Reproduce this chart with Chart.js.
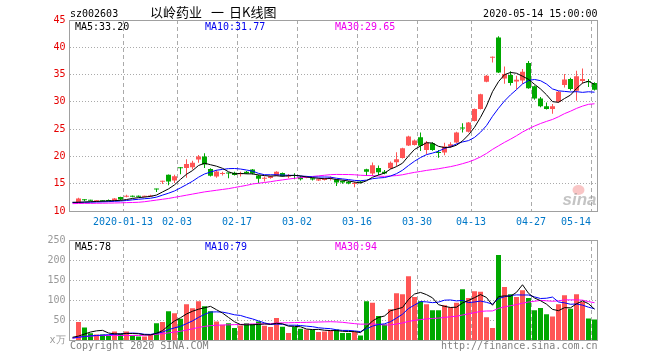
<!DOCTYPE html>
<html>
<head>
<meta charset="utf-8">
<title>以岭药业 日K线图</title>
<script src="https://cdn.jsdelivr.net/npm/chart.js@4.4.1/dist/chart.umd.min.js"></script>
<style>
    html, body { margin: 0; padding: 0; background: #fff; }
    #wrap { position: relative; width: 660px; height: 360px; overflow: hidden; background: #fff; }
    #wrap canvas { position: absolute; left: 0; }
    #kline { top: 0; }
    #vol { top: 230px; }
</style>
</head>
<body>
<div id="wrap">
    <canvas id="kline" width="660" height="230"></canvas>
    <canvas id="vol" width="660" height="130"></canvas>
</div>
<script>
// trading days; the first slot (12-30) only carries the moving averages
const dates = [
    '2019-12-30', '2019-12-31',
    '2020-01-02', '2020-01-03', '2020-01-06', '2020-01-07', '2020-01-08', '2020-01-09', '2020-01-10',
    '2020-01-13', '2020-01-14', '2020-01-15', '2020-01-16', '2020-01-17', '2020-01-20', '2020-01-21',
    '2020-01-22', '2020-01-23',
    '2020-02-03', '2020-02-04', '2020-02-05', '2020-02-06', '2020-02-07', '2020-02-10', '2020-02-11',
    '2020-02-12', '2020-02-13', '2020-02-14', '2020-02-17', '2020-02-18', '2020-02-19', '2020-02-20',
    '2020-02-21', '2020-02-24', '2020-02-25', '2020-02-26', '2020-02-27', '2020-02-28',
    '2020-03-02', '2020-03-03', '2020-03-04', '2020-03-05', '2020-03-06', '2020-03-09', '2020-03-10',
    '2020-03-11', '2020-03-12', '2020-03-13', '2020-03-16', '2020-03-17', '2020-03-18', '2020-03-19',
    '2020-03-20', '2020-03-23', '2020-03-24', '2020-03-25', '2020-03-26', '2020-03-27', '2020-03-30',
    '2020-03-31',
    '2020-04-01', '2020-04-02', '2020-04-03', '2020-04-07', '2020-04-08', '2020-04-09', '2020-04-10',
    '2020-04-13', '2020-04-14', '2020-04-15', '2020-04-16', '2020-04-17', '2020-04-20', '2020-04-21',
    '2020-04-22', '2020-04-23', '2020-04-24', '2020-04-27', '2020-04-28', '2020-04-29', '2020-04-30',
    '2020-05-06', '2020-05-07', '2020-05-08', '2020-05-11', '2020-05-12', '2020-05-13', '2020-05-14'
];

const tickDates = ['2020-01-13', '2020-02-03', '2020-02-17', '2020-03-02', '2020-03-16',
    '2020-03-30', '2020-04-13', '2020-04-27', '2020-05-14'];
const tickLabels = ['2020-01-13', '02-03', '02-17', '03-02', '03-16', '03-30', '04-13', '04-27', '05-14'];

const titleParts = ['以岭药业', '一', '日K线图'];

const open = [null,
    11.55, 12.05, 11.95, 11.8, 11.9, 11.95, 11.9, 12.55, 12.6, 12.75,
    12.7, 12.6, 12.65, 14.05, 15.35, 16.65, 15.6, 17.95, 17.9, 18.0,
    19.45, 20.0, 17.7, 16.3, 16.8, 16.95, 17.0, 16.75, 17.2, 17.6,
    16.5, 15.9, 16.05, 16.5, 16.95, 16.3, 16.5, 16.2, 16.1, 16.0,
    15.6, 15.7, 15.95, 15.75, 15.5, 15.35, 14.95, 15.35, 17.65, 16.85,
    17.9, 17.2, 17.85, 18.95, 19.7, 22.0, 22.1, 23.5, 21.2, 22.4,
    20.75, 20.7, 21.8, 22.55, 25.2, 24.5, 26.5, 28.7, 33.7, 38.1,
    41.8, 34.3, 34.9, 33.75, 33.9, 37.1, 32.85, 30.6, 29.2, 28.7,
    30.0, 33.1, 34.2, 32.05, 33.8, 33.7, 33.45];
const high = [null,
    12.45, 12.15, 12.05, 11.95, 11.95, 12.1, 12.4, 12.6, 13.0, 12.85,
    12.85, 12.8, 13.0, 14.1, 15.55, 16.7, 16.65, 18.05, 19.5, 19.2,
    20.25, 20.6, 17.85, 17.5, 17.2, 17.05, 17.2, 17.2, 17.35, 17.7,
    16.65, 16.3, 16.45, 17.3, 17.05, 16.8, 16.9, 16.4, 16.4, 16.1,
    16.0, 16.05, 16.3, 15.8, 15.6, 15.5, 15.35, 15.5, 17.75, 18.9,
    18.35, 17.5, 19.05, 20.75, 21.6, 23.8, 23.1, 24.4, 22.85, 22.6,
    21.2, 22.5, 22.6, 24.5, 26.1, 26.3, 28.8, 31.5, 34.9, 38.3,
    42.0, 36.5, 35.6, 34.8, 36.0, 37.5, 33.0, 30.9, 29.9, 29.6,
    32.0, 35.1, 34.4, 35.7, 36.1, 34.2, 33.6];
const low = [null,
    11.5, 11.8, 11.8, 11.7, 11.7, 11.8, 11.85, 11.95, 12.5, 12.5,
    12.5, 12.5, 12.6, 13.5, 14.95, 14.7, 15.15, 16.75, 16.1, 17.6,
    18.85, 17.9, 16.3, 16.1, 16.5, 16.0, 16.5, 16.3, 16.8, 16.7,
    15.1, 15.4, 15.9, 16.4, 16.3, 16.0, 15.8, 15.6, 16.0, 15.6,
    15.5, 15.6, 15.6, 14.6, 15.0, 14.9, 14.35, 15.1, 16.4, 16.4,
    16.6, 16.75, 17.7, 18.2, 19.6, 21.9, 22.0, 21.0, 20.4, 21.05,
    19.75, 20.2, 21.6, 22.4, 24.4, 24.4, 26.4, 28.6, 33.6, 37.2,
    35.3, 33.3, 33.0, 32.3, 33.3, 32.4, 30.4, 29.0, 28.6, 27.8,
    29.9, 32.65, 32.1, 30.2, 33.3, 32.7, 32.1];
const close = [null,
    12.3, 11.95, 11.9, 11.9, 11.8, 11.85, 12.3, 12.1, 12.75, 12.6,
    12.6, 12.65, 12.8, 13.95, 15.45, 15.4, 16.35, 17.85, 18.6, 18.85,
    20.0, 18.5, 16.45, 17.25, 16.9, 16.85, 16.6, 16.85, 16.85, 16.85,
    15.9, 16.0, 16.35, 17.2, 16.35, 16.4, 16.4, 15.8, 16.2, 15.75,
    15.8, 16.0, 16.05, 15.2, 15.2, 15.05, 15.05, 15.2, 17.2, 18.4,
    17.1, 16.85, 18.85, 19.5, 21.5, 23.65, 22.9, 21.95, 22.55, 21.2,
    20.65, 21.8, 22.25, 24.4, 25.1, 26.2, 28.7, 31.4, 34.8, 38.2,
    35.4, 35.1, 33.45, 34.05, 35.5, 32.5, 30.6, 29.2, 28.7, 29.2,
    31.85, 34.1, 32.35, 34.7, 34.2, 33.6, 32.2];

// volume, in 万 shares
const volume = [null,
    46, 32.5, 18, 15, 15, 12.5, 22.5, 16.5, 22.5, 12.5,
    10, 10, 14, 43, 46, 72.5, 67.5, 54, 90, 80,
    97.5, 85, 72.5, 47.5, 39, 43, 31, 37.5, 43, 41,
    47.5, 36.5, 33.5, 56, 34, 18.5, 33.5, 29, 27.5, 27.5,
    21, 22.5, 25, 27.5, 18.5, 18.5, 21, 12.5, 97.5, 94,
    61, 40, 77.5, 117.5, 115, 160, 108, 97.5, 90, 75,
    75, 87.5, 83, 94, 127.5, 106, 122.5, 121, 58, 31,
    212.5, 133, 115, 108, 125, 106, 75, 81, 65, 60,
    90, 112.5, 79, 115, 96, 55, 52.5];

const ma5 = [11.6,
    11.6, 11.65, 11.7, 11.75, 11.8, 11.85, 11.9, 11.95, 12.1, 12.3,
    12.45, 12.55, 12.68, 12.92, 13.49, 14.05, 14.79, 15.8, 16.73, 17.41,
    18.33, 18.76, 18.48, 18.21, 17.82, 17.19, 16.81, 16.89, 16.81, 16.8,
    16.61, 16.49, 16.39, 16.46, 16.36, 16.46, 16.54, 16.43, 16.23, 16.11,
    15.99, 15.91, 15.96, 15.76, 15.65, 15.5, 15.31, 15.14, 15.54, 16.18,
    16.59, 16.95, 17.68, 18.14, 18.76, 20.07, 21.28, 21.9, 22.51, 22.45,
    21.85, 21.63, 21.69, 22.06, 22.84, 23.95, 25.33, 27.16, 29.24, 31.86,
    33.7, 34.98, 35.39, 35.24, 34.7, 34.12, 33.22, 32.37, 31.3, 30.04,
    29.91, 30.61, 31.24, 32.44, 33.44, 33.79, 33.2];
const ma10 = [11.55,
    11.58, 11.6, 11.62, 11.65, 11.68, 11.72, 11.77, 11.83, 11.92, 12.05,
    12.15, 12.25, 12.34, 12.54, 12.91, 13.26, 13.67, 14.24, 14.83, 15.45,
    16.19, 16.78, 17.14, 17.47, 17.62, 17.76, 17.79, 17.69, 17.51, 17.31,
    16.9, 16.65, 16.64, 16.64, 16.58, 16.54, 16.52, 16.41, 16.35, 16.24,
    16.23, 16.23, 16.2, 16.0, 15.88, 15.75, 15.61, 15.55, 15.65, 15.92,
    16.05, 16.13, 16.41, 16.84, 17.47, 18.33, 19.12, 19.79, 20.33, 20.61,
    20.96, 21.46, 21.8, 22.29, 22.65, 22.9, 23.48, 24.43, 25.65, 27.35,
    28.83, 30.16, 31.28, 32.24, 33.28, 33.91, 34.1, 33.88, 33.27, 32.37,
    32.02, 31.92, 31.81, 31.87, 31.74, 31.85, 31.77];
const ma30 = [11.35,
    11.38, 11.4, 11.4, 11.42, 11.43, 11.45, 11.47, 11.5, 11.53, 11.56,
    11.6, 11.7, 11.85, 12.0, 12.15, 12.3, 12.5, 12.7, 12.9, 13.1,
    13.3, 13.5, 13.65, 13.8, 13.95, 14.1, 14.3, 14.5, 14.7, 14.95,
    15.09, 15.22, 15.37, 15.55, 15.7, 15.85, 15.99, 16.11, 16.23, 16.33,
    16.44, 16.55, 16.66, 16.7, 16.69, 16.68, 16.64, 16.55, 16.5, 16.49,
    16.39, 16.34, 16.42, 16.49, 16.64, 16.87, 17.08, 17.25, 17.44, 17.59,
    17.74, 17.94, 18.13, 18.37, 18.67, 18.99, 19.4, 19.92, 20.54, 21.29,
    21.94, 22.58, 23.16, 23.79, 24.47, 25.05, 25.57, 26.03, 26.42, 26.78,
    27.27, 27.84, 28.29, 28.8, 29.22, 29.55, 29.65];

const volMa5 = [8,
    11, 16, 21, 24, 25.3, 18.6, 16.6, 16.3, 17.8, 17.3,
    16.8, 14.3, 13.8, 17.9, 24.6, 37.1, 48.6, 56.6, 66, 72.8,
    77.8, 81.3, 85, 76.5, 68.3, 57.4, 46.6, 39.6, 38.7, 39.1,
    40, 41.1, 40.3, 42.9, 41.5, 35.7, 35.1, 34.2, 28.5, 27.2,
    27.7, 25.5, 24.7, 24.7, 22.9, 22.4, 22.1, 19.6, 33.6, 48.7,
    57.2, 61, 74, 78, 82.2, 102, 115.6, 119.6, 114.1, 106.1,
    89.1, 85, 82.1, 82.9, 93.4, 99.6, 106.6, 114.2, 107, 87.7,
    109, 111.1, 109.9, 119.9, 138.7, 117.4, 105.8, 99, 90.4, 77.4,
    74.2, 81.7, 81.3, 91.3, 98.5, 91.5, 78];
const volMa10 = [6,
    8, 10, 11.5, 12.5, 13.5, 14.5, 15.5, 16.5, 17.5, 18.5,
    17.7, 15.45, 15.05, 17.85, 20.95, 26.95, 31.45, 35.2, 41.95, 48.7,
    57.45, 64.95, 70.8, 71.25, 70.55, 67.6, 63.95, 62.3, 57.6, 53.7,
    48.7, 43.85, 39.95, 40.8, 40.3, 37.85, 38.1, 37.25, 35.7, 34.35,
    31.7, 30.3, 29.45, 26.6, 25.05, 25.05, 23.8, 22.15, 29.15, 35.8,
    39.8, 41.55, 46.8, 55.8, 65.45, 79.6, 88.3, 96.8, 96.05, 94.15,
    95.55, 100.3, 100.85, 98.5, 99.75, 94.35, 95.8, 98.15, 94.95, 90.55,
    104.3, 108.85, 112.05, 113.45, 113.2, 113.2, 108.45, 104.45, 105.15, 108.05,
    95.8, 93.75, 90.15, 90.85, 87.95, 82.85, 79];
const volMa30 = [6,
    8, 10, 11, 12, 12.5, 12.5, 12.5, 12.5, 12.5, 12.5,
    12.5, 13, 14, 15.5, 17, 19, 21, 23, 26, 29,
    32.5, 35, 37, 38, 38.5, 39, 39.5, 40, 40.5, 41.25,
    41.3, 41.43, 41.95, 43.32, 43.95, 44.15, 44.52, 44.93, 45.1, 45.6,
    45.97, 46.38, 46.75, 46.23, 45.32, 43.52, 41.97, 40.58, 40.83, 41.3,
    40.08, 38.58, 38.75, 41.08, 43.62, 47.52, 50.08, 52.08, 53.65, 54.78,
    55.7, 57.4, 59.05, 60.32, 63.43, 66.35, 69.32, 72.38, 73.4, 73.52,
    79.9, 83.58, 86.58, 89.27, 92.82, 95.73, 97.53, 99.82, 98.73, 97.6,
    98.57, 100.98, 101.03, 100.95, 100.32, 96.82, 94];

const UP = '#ff5555';
const DOWN = '#00a800';
const GRID = '#aaaaaa';
const FRAME = '#a0a0a0';
const MONO = '"DejaVu Sans Mono", monospace';

const candleColor = close.map((c, k) => (c !== null && c >= open[k]) ? UP : DOWN);
const last = dates.length - 1;

// vertical dashed lines only at the labelled dates
function dateGridColor(ctx) {
    const d = dates[ctx.index];
    return d && tickDates.includes(d) ? GRID : 'rgba(0,0,0,0)';
}

function maLine(label, data, color) {
    return {
        type: 'line', label, data,
        borderColor: color, borderWidth: 1,
        pointRadius: 0, tension: 0, order: 0
    };
}

function text(ctx, str, x, y, color, align, font) {
    ctx.fillStyle = color;
    ctx.textAlign = align || 'left';
    ctx.textBaseline = 'alphabetic';
    ctx.font = font || ('10px ' + MONO);
    ctx.fillText(str, x, y);
}

const framePlugin = {
    id: 'frame',
    afterDraw(chart) {
        const { ctx, chartArea: a } = chart;
        const l = Math.floor(a.left) + 0.5, t = Math.floor(a.top) + 0.5;
        const r = Math.floor(a.right) + 0.5, b = Math.floor(a.bottom) + 0.5;
        ctx.save();
        ctx.strokeStyle = FRAME;
        ctx.lineWidth = 1;
        ctx.strokeRect(l, t, r - l, b - t);
        ctx.restore();
    }
};

const klineText = {
    id: 'klineText',
    beforeDatasetsDraw(chart) {
        // sina watermark
        const ctx = chart.ctx;
        const a = chart.chartArea;
        ctx.save();
        ctx.globalAlpha = 0.4;
        ctx.fillStyle = '#f07070';
        ctx.beginPath();
        ctx.ellipse(a.right - 19, a.bottom - 21, 6, 5, 0, 0, Math.PI * 2);
        ctx.fill();
        ctx.globalAlpha = 0.5;
        text(ctx, 'sina', a.right - 35, a.bottom - 6, '#8a8a8a', 'left', 'italic bold 17px "Liberation Sans"');
        ctx.restore();
    },
    afterDraw(chart) {
        const { ctx, chartArea: a } = chart;
        const x = chart.scales.x;
        ctx.save();
        text(ctx, 'sz002603', 70, 17, '#000');
        // title pieces are spaced apart as in the Sina header
        const cjk = '13px "Noto Sans CJK SC"';
        text(ctx, titleParts[0], 150, 17, '#000', 'left', cjk);
        text(ctx, titleParts[1], 211, 17, '#000', 'left', cjk);
        text(ctx, titleParts[2], 229, 17, '#000', 'left', cjk);
        text(ctx, dates[last] + ' 15:00:00', a.right, 16.5, '#000', 'right');

        text(ctx, 'MA5:' + ma5[last].toFixed(2), 75, 29.5, '#000');
        text(ctx, 'MA10:' + ma10[last].toFixed(2), 205, 29.5, '#0000ee');
        text(ctx, 'MA30:' + ma30[last].toFixed(2), 335, 29.5, '#ee00ee');

        // date labels centred on their grid line, the last one kept inside the frame
        ctx.font = '10px ' + MONO;
        tickDates.forEach((d, t) => {
            const gx = x.getPixelForValue(dates.indexOf(d) - 0.5) - 0.5;
            const w = ctx.measureText(tickLabels[t]).width;
            if (gx + w / 2 > a.right - 6) {
                text(ctx, tickLabels[t], a.right - 6.5, 225, '#0078c8', 'right');
            } else {
                text(ctx, tickLabels[t], gx, 225, '#0078c8', 'center');
            }
        });
        ctx.restore();
    }
};

const volText = {
    id: 'volText',
    afterDraw(chart) {
        const { ctx, chartArea: a } = chart;
        ctx.save();
        text(ctx, 'MA5:' + Math.round(volMa5[last]), 75, 20, '#000');
        text(ctx, 'MA10:' + Math.round(volMa10[last]), 205, 20, '#0000ee');
        text(ctx, 'MA30:' + Math.round(volMa30[last]), 335, 20, '#ee00ee');
        text(ctx, 'Copyright 2020 SINA.COM', 70, 118.5, '#808080');
        text(ctx, 'http://finance.sina.com.cn', a.right, 118.5, '#808080', 'right');
        ctx.restore();
    }
};

function baseOptions(yScale, topPad, xHeight) {
    return {
        responsive: false,
        animation: false,
        devicePixelRatio: 1,
        layout: { padding: { left: 0, right: 62.5, top: topPad, bottom: 0 } },
        plugins: { legend: { display: false }, tooltip: { enabled: false } },
        scales: {
            x: {
                type: 'category',
                offset: true,
                grid: { offset: true, color: dateGridColor, lineWidth: 1, drawTicks: false },
                border: { display: false, dash: [4, 3] },
                ticks: { display: false, autoSkip: false },
                afterFit: (s) => { s.height = xHeight; }
            },
            y: Object.assign({
                grid: { color: GRID, lineWidth: 1, drawTicks: false },
                border: { display: false, dash: [1, 2] },
                afterFit: (s) => { s.width = 69.5; }
            }, yScale)
        }
    };
}

new Chart(document.getElementById('kline'), {
    type: 'bar',
    data: {
        labels: dates,
        datasets: [
            maLine('MA5', ma5, '#000000'),
            maLine('MA10', ma10, '#0000ff'),
            maLine('MA30', ma30, '#ff00ff'),
            {
                label: 'body',
                data: dates.map((d, k) => open[k] === null ? null : [open[k], close[k]]),
                backgroundColor: candleColor,
                barThickness: 5, minBarLength: 1,
                grouped: false, inflateAmount: 0, borderWidth: 0, order: 1
            },
            {
                label: 'wick',
                data: dates.map((d, k) => low[k] === null ? null : [low[k], high[k]]),
                backgroundColor: candleColor,
                barThickness: 1,
                grouped: false, inflateAmount: 0, borderWidth: 0, order: 2
            }
        ]
    },
    options: baseOptions({
        min: 10, max: 45,
        ticks: { stepSize: 5, color: '#e60000', padding: 4, font: { family: MONO, size: 10 } }
    }, 20, 19),
    plugins: [klineText, framePlugin]
});

new Chart(document.getElementById('vol'), {
    type: 'bar',
    data: {
        labels: dates,
        datasets: [
            maLine('MA5', volMa5, '#000000'),
            maLine('MA10', volMa10, '#0000ff'),
            maLine('MA30', volMa30, '#ff00ff'),
            {
                label: 'volume',
                data: volume,
                backgroundColor: candleColor,
                barThickness: 5,
                grouped: false, inflateAmount: 0, borderWidth: 0, order: 1
            }
        ]
    },
    options: baseOptions({
        min: 0, max: 250,
        ticks: {
            stepSize: 50, color: '#999999', padding: 4, font: { family: MONO, size: 10 },
            callback: (v) => v === 0 ? 'x万' : v
        }
    }, 10, 19.5),
    plugins: [volText, framePlugin]
});
</script>
</body>
</html>
